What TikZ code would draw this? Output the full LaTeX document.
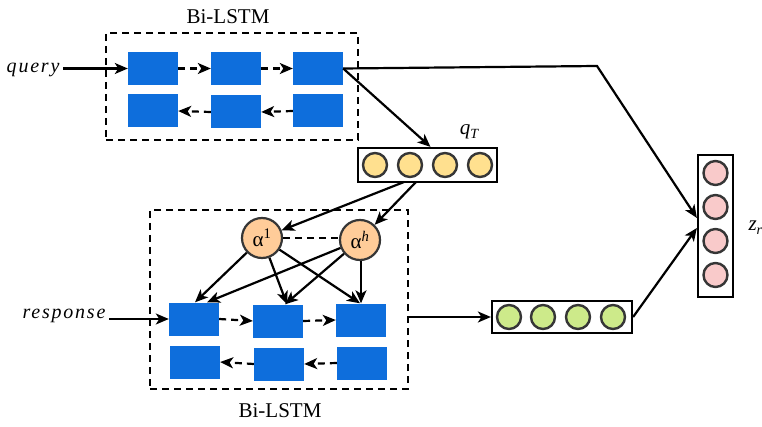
\documentclass[tikz,border=0pt]{standalone}
\usepackage{fontspec}
\setmainfont{Liberation Serif}
\usetikzlibrary{arrows.meta,calc}
\definecolor{blk}{HTML}{0E6EDC}
\definecolor{yel}{HTML}{FFE08F}
\definecolor{org}{HTML}{FFCC99}
\definecolor{grn}{HTML}{CDEA8A}
\definecolor{pnk}{HTML}{F9CACA}
\definecolor{cbd}{HTML}{363636}
\begin{document}
\begin{tikzpicture}[x=1pt,y=-1pt,
  cell/.style={fill=blk,minimum width=50pt,minimum height=33pt,inner sep=0pt},
  arr/.style={line width=2.2pt,-{Stealth[length=13pt,width=11pt,inset=3.5pt]}},
  darr/.style={arr,dash pattern=on 7pt off 5pt},
  dbox/.style={draw,line width=2.2pt,dash pattern=on 7pt off 5pt,inner sep=0pt},
  vec/.style={draw,line width=2.2pt,inner sep=0pt},
  dot/.style={circle,draw=cbd,line width=2.4pt,minimum size=24pt,inner sep=0pt},
  alph/.style={circle,draw=cbd,line width=2.2pt,fill=org,minimum size=40pt,inner sep=0pt,font=\fontsize{21}{22}\selectfont},
  lbl/.style={font=\fontsize{21}{22}\selectfont},
  ilbl/.style={font=\fontsize{20}{22}\selectfont\itshape\addfontfeature{LetterSpace=9}}
]
\useasboundingbox (0,0) rectangle (762,427);
% top Bi-LSTM
\node[dbox,minimum width=252pt,minimum height=107pt] (qbox) at (232,86.5) {};
\node[lbl] (qlab) at (228,17) {Bi-LSTM};
\node[cell] (q1) at (153,68.5) {};
\node[cell] (q2) at (236,68.5) {};
\node[cell] (q3) at (318,68.5) {};
\node[cell] (b1) at (153,111) {};
\node[cell] (b2) at (236,112) {};
\node[cell] (b3) at (318,111) {};
\node[ilbl,anchor=east] (query) at (63,70) {query};
\draw[arr] (query.east |- q1.west) -- (q1.west);
\draw[darr] (q1.east) -- (q2.west);
\draw[darr] (q2.east) -- (q3.west);
\draw[darr] (b3.west) -- (b2.east);
\draw[darr] (b2.west) -- (b1.east);
% q_T
\node[vec,minimum width=139pt,minimum height=34pt] (qT) at (427.5,165) {};
\node[dot,fill=yel] (y1) at (375,165) {};
\node[dot,fill=yel] (y2) at (410,165) {};
\node[dot,fill=yel] (y3) at (445,165) {};
\node[dot,fill=yel] (y4) at (480,165) {};
\node (qTlab) at (469,132) {\fontsize{21}{22}\selectfont\itshape q\raisebox{-4pt}{\fontsize{14}{14}\selectfont T}};
\draw[arr] (q3.east) -- ([xshift=3pt]qT.north);
% lower Bi-LSTM
\node[dbox,minimum width=258pt,minimum height=179pt] (rbox) at (279,299.5) {};
\node[lbl] (rlab) at (280,411) {Bi-LSTM};
\node[alph] (a1) at (262,238) {α\textsuperscript{1}};
\node[alph] (ah) at (360,240) {α\textsuperscript{\itshape h}};
\draw[line width=2.2pt,dash pattern=on 7pt off 5pt] (a1.east) -- (a1.east -| ah.west);
\coordinate (qs1) at (404,182);
\coordinate (qs2) at (416,182);
\draw[arr] (qs1) -- (a1);
\draw[arr] (qs2) -- (ah);
\node[cell] (r1) at (194,319) {};
\node[cell] (r2) at (278,321) {};
\node[cell] (r3) at (361,320) {};
\node[cell] (s1) at (195,362) {};
\node[cell] (s2) at (279,364) {};
\node[cell] (s3) at (362,363) {};
\node[ilbl,anchor=east] (resp) at (109,316) {response};
\draw[arr] (resp.east |- r1.west) -- (r1.west);
\draw[darr] (r1.east) -- (r2.west);
\draw[darr] (r2.east) -- (r3.west);
\draw[darr] (s3.west) -- (s2.east);
\draw[darr] (s2.west) -- (s1.east);
\draw[arr] (a1) -- ([xshift=1pt]r1.north);
\draw[arr] (a1) -- ([xshift=9pt]r2.north);
\draw[arr] (a1) -- ([xshift=-1pt]r3.north);
\draw[arr] (ah) -- ([xshift=13pt]r1.north);
\draw[arr] (ah) -- ([xshift=7pt]r2.north);
\draw[arr] (ah.south -| r3.north) -- (r3.north);
% green vector
\node[vec,minimum width=140pt,minimum height=32pt] (gv) at (562,317) {};
\node[dot,fill=grn] (g1) at (509,317) {};
\node[dot,fill=grn] (g2) at (543,317) {};
\node[dot,fill=grn] (g3) at (578,317) {};
\node[dot,fill=grn] (g4) at (613,317) {};
\draw[arr] (rbox.east |- gv.west) -- (gv.west);
% z vector
\node[vec,minimum width=35pt,minimum height=142pt] (zv) at (715.5,226) {};
\node[dot,fill=pnk] (p1) at (715.5,173) {};
\node[dot,fill=pnk] (p2) at (715.5,207) {};
\node[dot,fill=pnk] (p3) at (715.5,241) {};
\node[dot,fill=pnk] (p4) at (715.5,275) {};
\node[anchor=west] (zlab) at (745,228) {\fontsize{21}{22}\selectfont\itshape z\raisebox{-4pt}{\fontsize{14}{14}\selectfont r}};
\coordinate (bend) at (597,66);
\draw[arr] (q3.east) -- (bend) -- ([yshift=8pt]zv.west);
\draw[arr] (gv.east) -- ([yshift=-2pt]zv.west);
\end{tikzpicture}
\end{document}
